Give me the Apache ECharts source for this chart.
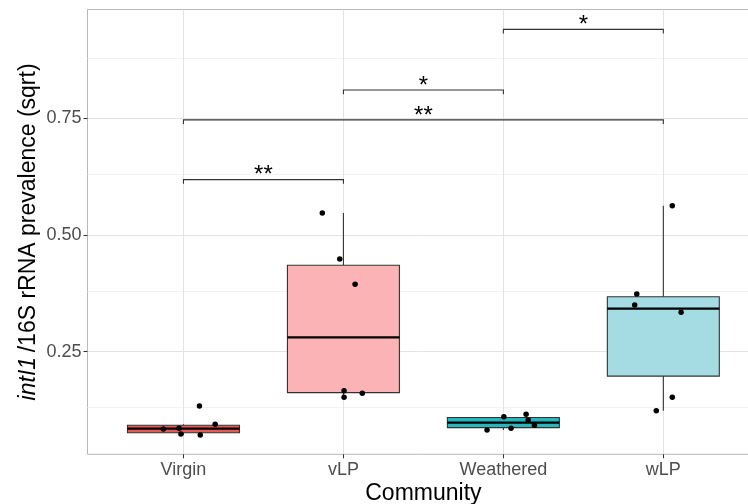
<!DOCTYPE html>
<html>
<head>
<meta charset="utf-8">
<script src="https://cdn.jsdelivr.net/npm/echarts@6/dist/echarts.min.js"></script>
<style>
html,body{margin:0;padding:0;background:#fff;}
#chart{width:748px;height:504px;}
</style>
</head>
<body>
<div id="chart"></div>
<script>
// ---- data ----
const categories = ['Virgin', 'vLP', 'Weathered', 'wLP'];
// [lower whisker, Q1, median, Q3, upper whisker]
const boxVirgin    = [0.0714, 0.0762, 0.0850, 0.0922, 0.0943];
const boxVLP       = [0.1522, 0.1622, 0.2805, 0.4353, 0.5474];
const boxWeathered = [0.0821, 0.0873, 0.0979, 0.1088, 0.1158];
const boxWLP       = [0.1235, 0.1977, 0.3423, 0.3678, 0.5630];
// individual samples and their horizontal jitter (category units)
const ptsVirgin    = [0.0843, 0.0858, 0.0735, 0.1336, 0.0714, 0.0943];
const jitVirgin    = [-0.126, -0.028, -0.016, 0.100, 0.105, 0.198];
const ptsVLP       = [0.5474, 0.4486, 0.3945, 0.1664, 0.1522, 0.1608];
const jitVLP       = [-0.132, -0.023, 0.073, 0.004, 0.004, 0.118];
const ptsWeathered = [0.0821, 0.1106, 0.0858, 0.1158, 0.1036, 0.0922];
const jitWeathered = [-0.102, 0.003, 0.048, 0.142, 0.155, 0.194];
const ptsWLP       = [0.5630, 0.3737, 0.3501, 0.3345, 0.1522, 0.1235];
const jitWLP       = [0.056, -0.166, -0.179, 0.111, 0.056, -0.044];
// significance brackets
const bracketFrom  = [1, 1, 2, 3];
const bracketTo    = [2, 4, 3, 4];
const bracketY     = [0.619, 0.747, 0.811, 0.941];
const bracketLabel = ['**', '**', '*', '*'];
const bracketTip   = 0.009;
// axis ticks
const yTicks = [0.25, 0.50, 0.75];
const yMinor = [0.125, 0.375, 0.625, 0.875];
const xTicks = [1, 2, 3, 4];

// ---- styles ----
const boxColors = ['#e45a56', '#fbb3b5', '#27b6bc', '#a5dbe2'];
const FONT = 'Liberation Sans, Arial, Helvetica, sans-serif';

const boxes = [boxVirgin, boxVLP, boxWeathered, boxWLP];
const pts = [ptsVirgin, ptsVLP, ptsWeathered, ptsWLP];
const jit = [jitVirgin, jitVLP, jitWeathered, jitWLP];

const boxData = boxes.map((b, i) => [i + 1].concat(b));
const pointData = [];
pts.forEach((arr, i) => arr.forEach((v, k) => pointData.push([i + 1 + jit[i][k], v])));
const bracketData = bracketFrom.map((f, i) => [f, bracketTo[i], bracketY[i], i]);

const gridLines = [];
yMinor.forEach(v => gridLines.push({yAxis: v, lineStyle: {color: '#f2f2f2', width: 1, type: 'solid'}}));
yTicks.forEach(v => gridLines.push({yAxis: v, lineStyle: {color: '#e3e3e3', width: 1, type: 'solid'}}));
xTicks.forEach(v => gridLines.push({xAxis: v, lineStyle: {color: '#e3e3e3', width: 1, type: 'solid'}}));

const chart = echarts.init(document.getElementById('chart'), null, {renderer: 'canvas'});
chart.setOption({
  animation: false,
  backgroundColor: '#ffffff',
  grid: {left: 87.5, top: 9.5, width: 671.8, height: 444.8, show: true,
         outerBoundsMode: 'none',
         borderColor: '#b8b8b8', borderWidth: 1, backgroundColor: 'transparent', containLabel: false},
  xAxis: {
    type: 'value', min: 0.4, max: 4.6,
    splitLine: {show: false}, axisLine: {show: false},
    axisTick: {show: true, customValues: xTicks, length: 4, lineStyle: {color: '#333333'}},
    axisLabel: {customValues: xTicks, formatter: v => categories[Math.round(v) - 1],
                fontSize: 18, color: '#4d4d4d', margin: 7, fontFamily: FONT},
    name: 'Community', nameLocation: 'middle', nameGap: 28, nameMoveOverlap: false,
    nameTextStyle: {fontSize: 23, color: '#000000', fontFamily: FONT}
  },
  yAxis: {
    type: 'value', min: 0.030, max: 0.9837,
    splitLine: {show: false}, axisLine: {show: false},
    axisTick: {show: true, customValues: yTicks, length: 4, lineStyle: {color: '#333333'}},
    axisLabel: {customValues: yTicks, formatter: v => v.toFixed(2),
                fontSize: 18, color: '#4d4d4d', margin: 6, fontFamily: FONT},
    name: '{i|intI1}\u2009/16S rRNA prevalence (sqrt)', nameLocation: 'middle', nameGap: 47,
    nameMoveOverlap: false,
    nameTextStyle: {fontSize: 23, color: '#000000', fontFamily: FONT,
                    rich: {i: {fontStyle: 'italic', fontSize: 23, color: '#000000', fontFamily: FONT}}}
  },
  series: [
    {
      type: 'line', data: [], z: 0, silent: true,
      markLine: {silent: true, symbol: 'none', z: 0, animation: false,
                 label: {show: false}, emphasis: {disabled: true}, data: gridLines}
    },
    {
      type: 'custom', z: 2, silent: true,
      encode: {x: 0, y: [1, 2, 3, 4, 5]},
      data: boxData,
      renderItem: function (params, api) {
        const x = api.value(0);
        const lo = api.coord([x, api.value(1)]);
        const q1 = api.coord([x, api.value(2)]);
        const md = api.coord([x, api.value(3)]);
        const q3 = api.coord([x, api.value(4)]);
        const hi = api.coord([x, api.value(5)]);
        const half = api.size([0.7, 0])[0] / 2;
        const lineStyle = {stroke: '#333333', lineWidth: 1.1};
        return {type: 'group', children: [
          {type: 'line', shape: {x1: lo[0], y1: lo[1], x2: q1[0], y2: q1[1]}, style: lineStyle},
          {type: 'line', shape: {x1: q3[0], y1: q3[1], x2: hi[0], y2: hi[1]}, style: lineStyle},
          {type: 'rect', shape: {x: q3[0] - half, y: q3[1], width: 2 * half, height: q1[1] - q3[1]},
           style: {fill: boxColors[params.dataIndex], stroke: '#333333', lineWidth: 1.1}},
          {type: 'line', shape: {x1: md[0] - half, y1: md[1], x2: md[0] + half, y2: md[1]},
           style: {stroke: '#000000', lineWidth: 2.2}}
        ]};
      }
    },
    {
      type: 'scatter', z: 3, silent: true,
      symbol: 'circle', symbolSize: 5.5,
      itemStyle: {color: '#000000', opacity: 1},
      data: pointData
    },
    {
      type: 'custom', z: 4, silent: true,
      encode: {x: [0, 1], y: 2},
      data: bracketData,
      renderItem: function (params, api) {
        const x1 = api.value(0), x2 = api.value(1), y = api.value(2);
        const a = api.coord([x1, y - bracketTip]);
        const b = api.coord([x1, y]);
        const c = api.coord([x2, y]);
        const d = api.coord([x2, y - bracketTip]);
        const mid = api.coord([(x1 + x2) / 2, y]);
        return {type: 'group', children: [
          {type: 'polyline', shape: {points: [a, b, c, d]},
           style: {stroke: '#333333', lineWidth: 1.1, fill: null}},
          {type: 'text', x: mid[0], y: mid[1] - 4,
           style: {text: bracketLabel[api.value(3)], fontSize: 24, fill: '#000000',
                   fontFamily: FONT, align: 'center', verticalAlign: 'middle'}}
        ]};
      }
    }
  ]
});
</script>
</body>
</html>
